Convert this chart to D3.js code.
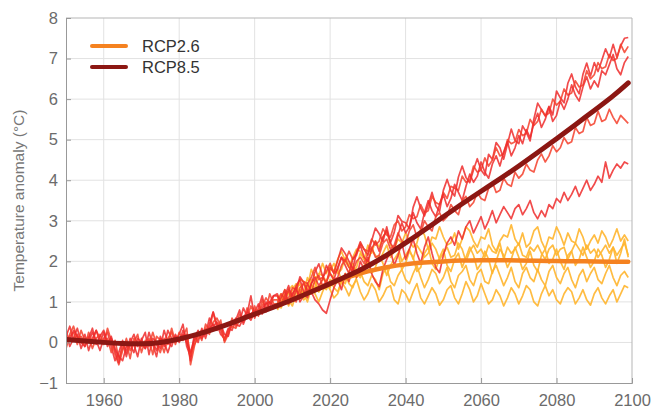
<!DOCTYPE html>
<html>
<head>
<meta charset="utf-8">
<script src="https://cdn.jsdelivr.net/npm/d3@7"></script>
<style>
body{margin:0;background:#fff;}
svg{display:block;}
</style>
</head>
<body>
<div id="chart"></div>
<script>
const width = 652;
const height = 409;
const margin = {top:18,right:20,bottom:26,left:66};

// years
const histYears = d3.range(1950, 2006);
const futYears = d3.range(2006, 2100);

// historical members (1950-2005)
const hist1 = [0.15,0.4,0.05,0.2,-0.15,0.1,0.0,0.25,0.05,-0.2, 0.1,0.25,-0.1,-0.45,-0.25,0.05,-0.25,0.1,-0.05,-0.35, 0.1,-0.15,0.25,-0.05,-0.35,0.15,-0.1,0.3,0.1,0.05, 0.2,0.45,-0.1,-0.35,0.05,0.15,0.3,0.2,0.6,0.4, 0.5,0.3,0.05,0.3,0.45,0.6,0.5,0.85,0.65,0.55, 0.75,0.95,0.7,1.0,0.85,1.15];
const hist2 = [0.0,0.2,0.4,0.1,0.15,-0.1,0.25,0.0,0.3,0.1, -0.05,0.35,0.05,-0.3,-0.55,-0.2,0.1,-0.2,0.0,0.2, -0.25,0.05,-0.1,0.25,-0.05,-0.25,0.1,-0.05,0.35,0.0, 0.1,0.15,0.35,-0.55,-0.1,0.25,0.05,0.45,0.3,0.75, 0.35,0.55,0.0,0.2,0.6,0.4,0.7,0.5,0.85,0.6, 0.9,0.65,1.05,0.8,1.2,0.95];
const hist3 = [0.3,-0.1,0.1,0.35,0.0,0.2,-0.2,0.1,0.3,0.0, 0.25,-0.1,0.15,-0.2,-0.5,0.0,-0.35,0.0,0.2,-0.1, 0.05,0.25,-0.3,0.1,0.0,-0.15,0.3,0.0,-0.1,0.2, 0.0,0.3,0.1,-0.45,0.2,0.0,0.35,0.1,0.45,0.75, 0.45,0.2,0.1,0.35,0.3,0.55,0.8,0.45,0.7,1.15, 0.6,0.85,1.15,0.75,1.0,1.15];
const hist4 = [-0.15,0.15,0.25,-0.05,0.3,0.05,0.15,-0.15,0.1,0.2, 0.0,0.1,-0.25,0.05,-0.4,-0.15,0.0,-0.4,0.1,0.0, -0.1,-0.05,0.1,-0.3,0.15,0.05,-0.25,0.1,0.25,-0.05, 0.25,0.05,0.2,-0.3,-0.05,0.1,0.15,0.35,0.2,0.5, 0.6,0.4,0.05,0.25,0.4,0.35,0.55,0.65,0.6,0.9, 0.7,0.8,0.9,1.1,0.95,1.05];
const hist5 = [0.1,0.05,0.3,0.15,0.0,-0.1,0.1,0.35,-0.05,0.15, 0.3,0.0,0.1,-0.15,-0.35,-0.45,-0.1,-0.05,-0.25,0.1, 0.0,-0.15,0.05,0.0,-0.2,0.1,0.0,-0.25,0.05,0.15, 0.05,0.2,0.0,-0.25,0.1,0.3,0.1,0.25,0.35,0.45, 0.3,0.45,0.2,0.15,0.5,0.45,0.4,0.6,0.75,0.7, 0.8,0.7,0.85,0.95,1.0,0.9];

// RCP8.5 members (2006-2099)
const rcp85_1 = [1.15,0.95,1.15,1.4, 1.05,1.27,1.62,1.48,1.23,1.43,1.74,1.94,1.64,1.45, 1.85,1.71,2.02,2.33,2.19,2.0,1.81,2.22,2.48,2.29, 2.15,2.51,2.82,2.68,2.49,2.85,2.46,2.72,3.13,2.99, 2.95,2.81,3.33,3.59,3.31,3.12,3.39,3.7,3.37,3.23, 3.75,4.02,3.74,3.61,4.08,4.35,4.07,3.94,4.26,4.53, 4.25,4.12,4.64,4.51,4.93,4.8,4.52,4.89,5.26,4.98, 4.9,5.34,5.18,4.97,5.51,5.9,5.74,5.58,5.82,5.61, 6.2,6.03,5.91,6.39,6.62,6.3,6.13,6.61,6.89,6.57, 6.9,6.68,6.96,7.24,7.02,7.35,7.03,7.31,7.5,7.52];
const rcp85_2 = [0.95,1.2,1.05,1.1, 1.35,1.3,1.15,1.5,1.45,1.6,1.85,1.55,1.6,1.75, 1.95,1.7,1.8,2.1,2.0,2.25,2.05,2.15,2.45,2.3, 2.25,2.55,2.4,2.5,2.8,2.65,2.6,2.9,3.0,2.75, 2.85,3.15,3.05,3.1,3.4,3.2,3.25,3.6,3.45,3.4, 3.7,3.55,3.85,3.8,3.75,4.1,3.95,4.0,4.35,4.2, 4.25,4.55,4.35,4.5,4.8,4.6,4.65,5.0,4.9,4.95, 5.25,5.1,5.15,5.5,5.35,5.45,5.75,5.6,5.65,6.0, 5.85,5.95,6.25,6.1,6.15,6.45,6.3,6.35,6.7,6.5, 6.6,6.9,6.75,6.8,7.1,6.95,7.0,7.35,7.15,7.3];
const rcp85_3 = [1.2,0.95,1.05,1.3, 1.15,1.4,1.55,1.25,1.1,1.45,1.6,1.4,1.55,1.9, 1.7,1.55,1.85,2.1,1.9,1.7,2.05,2.2,2.4,2.1, 2.0,2.3,2.5,2.25,2.6,2.75,2.45,2.3,2.65,2.95, 2.7,2.85,3.2,2.95,2.8,3.2,3.5,3.25,3.1,3.4, 3.65,3.35,3.55,3.9,3.7,3.5,3.85,4.15,3.95,4.1, 4.45,4.2,4.05,4.4,4.6,4.35,4.7,4.95,4.6,4.8, 5.1,4.9,5.25,5.05,5.4,5.65,5.3,5.5,5.8,5.45, 5.6,5.95,5.75,6.0,6.35,6.1,5.95,6.3,6.55,6.25, 6.45,6.3,6.7,6.6,6.85,7.1,6.75,6.6,6.9,7.05];
const rcp85_4 = [1.05,0.9,1.2,1.25, 1.1,1.0,1.35,1.45,1.3,1.2,1.55,1.65,1.4,1.5, 1.7,1.55,1.6,1.9,2.05,1.85,1.75,2.0,2.1,1.95, 2.2,2.35,2.1,2.15,2.45,2.55,2.3,2.4,2.7,2.5, 2.45,2.75,2.9,2.6,2.7,3.0,2.85,2.75,3.1,3.2, 3.0,3.1,3.4,3.25,3.15,3.5,3.6,3.35,3.45,3.7, 3.55,3.5,3.8,3.95,3.7,3.75,4.05,3.9,3.85,4.2, 4.05,4.15,4.4,4.25,4.2,4.5,4.65,4.45,4.6,4.85, 4.7,4.8,5.05,4.9,4.95,5.3,5.15,5.2,5.55,5.35, 5.4,5.7,5.45,5.5,5.75,5.55,5.4,5.6,5.5,5.4];
const rcp85_5 = [0.85,1.1,1.3,0.95, 1.2,1.35,1.0,1.15,1.45,1.25,1.05,0.95,0.8,0.72, 1.05,1.35,1.55,1.3,1.7,1.5,1.85,1.6,2.0,1.8, 2.1,1.7,1.5,1.38,1.8,2.05,2.25,1.9,2.15,2.45, 2.05,2.3,2.55,2.2,1.95,2.35,2.6,2.2,1.85,1.72, 2.15,2.45,2.6,2.4,2.75,2.55,2.85,3.0,2.7,2.9, 3.1,2.8,3.0,3.25,2.95,3.15,3.35,3.2,3.05,3.3, 3.4,3.15,3.3,3.5,3.2,3.05,3.25,3.1,3.4,3.3, 3.55,3.45,3.7,3.5,3.65,3.85,3.6,3.8,4.0,3.75, 3.9,4.1,3.95,4.45,4.05,4.25,4.4,4.3,4.45,4.4];

// RCP2.6 members (2006-2099)
const rcp26_1 = [1.05,1.2,0.95,1.3, 1.4,1.25,1.55,1.5,1.35,1.8,1.6,1.65,1.95,1.7, 1.9,1.75,2.05,2.25,2.0,1.85,2.1,2.3,2.25,2.05, 2.4,2.2,2.5,2.35,2.6,2.75,2.4,2.3,2.55,2.45, 2.7,2.5,2.35,2.45,2.8,2.65,2.3,2.6,2.55,2.85, 2.6,2.4,2.45,2.7,2.3,2.55,2.85,2.75,2.5,2.35, 2.6,2.55,2.8,2.4,2.25,2.5,2.65,2.6,2.9,2.55, 2.4,2.7,2.35,2.45,2.75,2.85,2.5,2.3,2.6,2.55, 2.85,2.65,2.4,2.7,2.5,2.45,2.8,2.6,2.3,2.5, 2.65,2.45,2.75,2.6,2.35,2.55,2.8,2.5,2.65,2.5];
const rcp26_2 = [0.9,1.1,1.15,1.0, 1.3,1.45,1.2,1.25,1.6,1.4,1.35,1.7,1.65,1.5, 1.75,1.95,1.7,1.8,2.1,1.9,1.75,1.85,2.2,2.05, 1.95,2.3,2.15,2.0,2.2,2.4,2.1,2.25,2.35,2.0, 2.15,2.3,2.05,2.4,2.25,2.1,2.2,2.45,2.3,2.05, 2.2,2.35,2.1,2.15,2.45,2.3,2.0,2.25,2.4,2.2, 2.3,2.1,2.4,2.25,2.2,2.45,2.05,2.35,2.2,2.3, 2.45,2.15,2.1,2.35,2.25,2.4,2.2,2.05,2.3,2.4, 2.15,2.3,2.35,2.05,2.25,2.45,2.3,2.15,2.4,2.2, 2.3,2.1,2.25,2.4,2.2,2.35,2.15,2.3,2.45,2.15];
const rcp26_3 = [1.15,1.0,1.3,1.2, 1.05,1.35,1.45,1.15,1.3,1.55,1.5,1.25,1.6,1.45, 1.35,1.7,1.8,1.55,1.45,1.75,1.95,1.7,1.6,1.9, 2.0,1.7,1.85,2.15,1.95,1.65,1.9,2.05,2.2,1.8, 1.95,2.25,2.1,1.75,1.85,2.2,2.35,1.95,1.8,2.1, 2.3,1.9,1.75,2.05,2.2,1.85,2.1,2.35,2.15,1.8, 1.95,2.25,2.05,1.7,2.0,2.3,2.15,1.85,2.05,2.35, 2.1,1.8,1.95,2.25,1.9,1.75,2.15,2.3,1.95,2.05, 2.3,2.0,1.8,2.15,2.25,1.9,2.05,2.35,2.1,1.85, 2.0,2.3,2.15,1.85,2.05,2.35,1.95,2.2,2.55,2.1];
const rcp26_4 = [0.8,0.95,1.1,0.9, 1.15,1.05,1.3,1.2,1.0,1.35,1.5,1.25,1.4,1.3, 1.55,1.35,1.25,1.5,1.7,1.45,1.35,1.6,1.75,1.5, 1.4,1.65,1.55,1.3,1.7,1.85,1.5,1.4,1.65,1.8, 1.55,1.45,1.7,1.9,1.6,1.35,1.55,1.8,1.7,1.45, 1.6,1.85,1.5,1.35,1.65,1.75,1.9,1.55,1.4,1.7, 1.8,1.5,1.45,1.75,1.9,1.65,1.4,1.6,1.85,1.5, 1.35,1.7,1.85,1.6,1.5,1.8,1.55,1.4,1.75,1.9, 1.6,1.45,1.7,1.85,1.55,1.35,1.65,1.8,1.5,1.7, 1.85,1.55,1.45,1.7,1.9,1.6,1.4,1.65,1.75,1.6];
const rcp26_5 = [0.95,0.85,1.1,1.05, 0.9,1.2,1.3,1.05,1.15,1.4,1.2,1.0,1.25,1.45, 1.3,1.1,1.2,1.5,1.35,1.15,1.4,1.55,1.25,1.05, 1.2,1.45,1.3,1.0,1.15,1.35,1.4,1.05,0.95,1.3, 1.2,1.0,1.25,1.45,1.1,0.95,1.15,1.35,1.2,0.92, 1.05,1.3,1.4,1.1,0.95,1.2,1.5,1.3,1.0,1.15, 1.45,1.2,0.95,1.05,1.3,1.15,0.9,1.1,1.35,1.2, 0.95,1.15,1.4,1.3,1.0,0.9,1.2,1.4,1.15,1.3, 1.05,0.95,1.2,1.35,1.25,0.95,1.1,1.3,1.05,0.92, 1.2,1.35,1.1,0.95,1.15,1.3,1.0,1.2,1.4,1.35];

// ensemble means
const mean85Years = [1950,1955,1960,1965,1970,1975,1980,1985,1990,1995,2000,2005,2010,2015,2020,2025,2030,2035,2040,2045,2050,2055,2060,2065,2070,2075,2080,2085,2090,2095,2099];
const mean85 = [0.07,0.04,0.0,-0.03,-0.04,-0.01,0.08,0.2,0.35,0.52,0.7,0.87,1.05,1.25,1.45,1.65,1.88,2.15,2.45,2.77,3.1,3.42,3.73,4.03,4.35,4.68,5.02,5.37,5.72,6.07,6.4];
const mean26Years = [2006,2010,2015,2020,2025,2030,2035,2040,2045,2050,2055,2060,2065,2070,2075,2080,2085,2090,2095,2099];
const mean26 = [0.92,1.05,1.25,1.45,1.62,1.76,1.86,1.93,1.97,2.0,2.02,2.03,2.03,2.02,2.01,2.01,2.0,2.0,1.99,1.99];

const xTicks = [1960,1980,2000,2020,2040,2060,2080,2100];
const yTicks = [-1,0,1,2,3,4,5,6,7,8];
const legendItems = [{name:"RCP2.6",color:"#f58220"},{name:"RCP8.5",color:"#8c1713"}];

const svg = d3.select("#chart")
.append("svg")
.attr("width",width)
.attr("height",height)
.style("font-family","'Liberation Sans', Arial, sans-serif");

const x = d3.scaleLinear()
.domain([1950,2100])
.range([margin.left,width-margin.right]);

const y = d3.scaleLinear()
.domain([-1,8])
.range([height-margin.bottom,margin.top]);

// GRID
svg.append("g")
.selectAll("line")
.data(xTicks.slice(0,-1))
.enter()
.append("line")
.attr("x1",d=>x(d)).attr("x2",d=>x(d))
.attr("y1",y(-1)).attr("y2",y(8))
.attr("stroke","#e2e2e2");

svg.append("g")
.selectAll("line")
.data(yTicks.slice(1,-1))
.enter()
.append("line")
.attr("x1",x(1950)).attr("x2",x(2100))
.attr("y1",d=>y(d)).attr("y2",d=>y(d))
.attr("stroke","#e2e2e2");

svg.append("clipPath").attr("id","plot")
.append("rect")
.attr("x",x(1950)).attr("y",y(8))
.attr("width",x(2100)-x(1950)).attr("height",y(-1)-y(8));

const plot = svg.append("g").attr("clip-path","url(#plot)");

const thin = d3.line().x(d=>x(d[0])).y(d=>y(d[1]));
const smooth = d3.line().x(d=>x(d[0])).y(d=>y(d[1])).curve(d3.curveBasis);

// RCP2.6 members
[rcp26_1,rcp26_2,rcp26_3,rcp26_4,rcp26_5].forEach(v=>{
plot.append("path")
.datum(futYears.map((yr,i)=>[yr,v[i]]))
.attr("fill","none")
.attr("stroke","#ffb52e")
.attr("stroke-opacity",0.9)
.attr("stroke-width",1.7)
.attr("stroke-linejoin","round")
.attr("d",thin);
});

// historical + RCP8.5 members
const hist = [hist1,hist2,hist3,hist4,hist5];
[rcp85_1,rcp85_2,rcp85_3,rcp85_4,rcp85_5].forEach((v,k)=>{
const pts = histYears.map((yr,i)=>[yr,hist[k][i]])
.concat(futYears.map((yr,i)=>[yr,v[i]]));
plot.append("path")
.datum(pts)
.attr("fill","none")
.attr("stroke",k%2 ? "#f5402c" : "#ee2c2c")
.attr("stroke-opacity",0.85)
.attr("stroke-width",1.7)
.attr("stroke-linejoin","round")
.attr("d",thin);
});

// MEANS
plot.append("path")
.datum(mean26Years.map((yr,i)=>[yr,mean26[i]]))
.attr("fill","none")
.attr("stroke","#f58220")
.attr("stroke-width",4.5)
.attr("stroke-linecap","round")
.attr("d",smooth);

plot.append("path")
.datum(mean85Years.map((yr,i)=>[yr,mean85[i]]))
.attr("fill","none")
.attr("stroke","#8c1713")
.attr("stroke-width",5)
.attr("stroke-linecap","round")
.attr("d",smooth);

// FRAME
svg.append("line")
.attr("x1",x(1950)).attr("x2",x(2100)).attr("y1",y(8)).attr("y2",y(8))
.attr("stroke","#b5b5b5");
svg.append("line")
.attr("x1",x(2100)).attr("x2",x(2100)).attr("y1",y(8)).attr("y2",y(-1))
.attr("stroke","#b5b5b5");

// X AXIS
const xAxis = svg.append("g")
.attr("transform",`translate(0,${y(-1)})`)
.call(d3.axisBottom(x).tickValues(xTicks).tickSize(-5).tickPadding(11).tickFormat(d3.format("d")));
xAxis.select(".domain").attr("stroke","#999");
xAxis.selectAll(".tick line").attr("stroke","#999");
xAxis.selectAll("text").attr("fill","#6b6b6b").style("font-size","16.5px").style("font-family","'Liberation Sans', Arial, sans-serif");

// Y AXIS
const yAxis = svg.append("g")
.attr("transform",`translate(${x(1950)},0)`)
.call(d3.axisLeft(y).tickValues(yTicks).tickSize(-5).tickPadding(8));
yAxis.select(".domain").attr("stroke","#999");
yAxis.selectAll(".tick line").attr("stroke","#999");
yAxis.selectAll("text").attr("fill","#6b6b6b").style("font-size","16.5px").style("font-family","'Liberation Sans', Arial, sans-serif");

// Y LABEL
svg.append("text")
.attr("x",-(y(8)+y(-1))/2)
.attr("y",24)
.attr("transform","rotate(-90)")
.attr("text-anchor","middle")
.attr("fill","#777")
.style("font-size","15.5px")
.text("Temperature anomaly (°C)");

// LEGEND
const legend = svg.append("g")
.selectAll("g")
.data(legendItems)
.enter()
.append("g")
.attr("transform",(d,i)=>`translate(92,${46+i*21})`);

legend.append("line")
.attr("x1",0).attr("x2",34)
.attr("stroke",d=>d.color)
.attr("stroke-width",4)
.attr("stroke-linecap","round");

legend.append("text")
.attr("x",50)
.attr("dy","0.35em")
.attr("fill","#333")
.style("font-size","16.5px")
.text(d=>d.name);
</script>
</body>
</html>
